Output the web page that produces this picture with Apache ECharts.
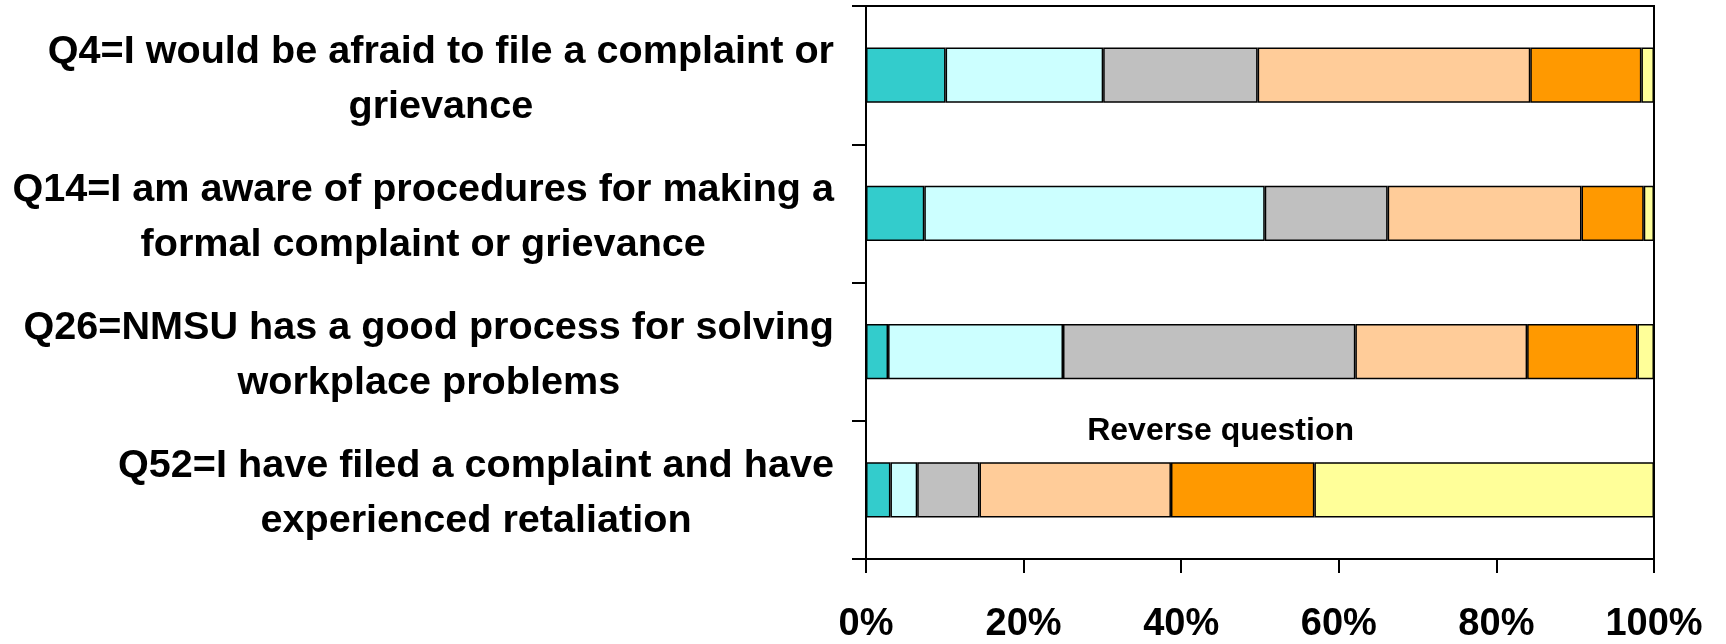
<!DOCTYPE html>
<html>
<head>
<meta charset="utf-8">
<script src="https://cdn.jsdelivr.net/npm/echarts@6/dist/echarts.min.js"></script>
<style>html,body{margin:0;padding:0;background:#fff;}#c{width:1726px;height:644px;}</style>
</head>
<body>
<div id="c"></div>
<script>
const categories = [
  ['Q4=I would be afraid to file a complaint or', 'grievance'],
  ['Q14=I am aware of procedures for making a', 'formal complaint or grievance'],
  ['Q26=NMSU has a good process for solving', 'workplace problems'],
  ['Q52=I have filed a complaint and have', 'experienced retaliation']
];
const seriesNames = ['S1', 'S2', 'S3', 'S4', 'S5', 'S6'];
const seriesColors = ['#33CCCC', '#CCFFFF', '#C0C0C0', '#FFCC99', '#FF9900', '#FFFF99'];
const s1 = [10.1, 7.4, 2.8, 3.1];
const s2 = [20.0, 43.2, 22.2, 3.4];
const s3 = [19.6, 15.6, 37.1, 7.9];
const s4 = [34.6, 24.6, 21.8, 24.3];
const s5 = [14.1, 7.9, 14.0, 18.2];
const s6 = [1.6, 1.3, 2.1, 43.1];
const xTicks = [0, 20, 40, 60, 80, 100];
const annotationText = 'Reverse question';

const seriesData = [s1, s2, s3, s4, s5, s6];
const catKeys = categories.map(c => c.join('\n'));
const FONT = '"Liberation Sans", Arial, sans-serif';

const chart = echarts.init(document.getElementById('c'), null, {renderer: 'canvas'});
const option = {
  animation: false,
  backgroundColor: '#fff',
  grid: {left: 866, right: 72, top: 6, bottom: 85, show: true, borderColor: '#000', borderWidth: 2, backgroundColor: 'transparent'},
  xAxis: {
    type: 'value', min: 0, max: 100, interval: 20,
    axisLine: {show: true, lineStyle: {color: '#000', width: 2}},
    axisTick: {show: true, length: 14, lineStyle: {color: '#000', width: 2}},
    splitLine: {show: false},
    axisLabel: {
      formatter: v => xTicks.includes(v) ? v + '%' : '',
      color: '#000', fontFamily: FONT, fontWeight: 'bold', fontSize: 38, margin: 47
    }
  },
  yAxis: {
    type: 'category', inverse: true, data: catKeys,
    axisLine: {show: true, lineStyle: {color: '#000', width: 2}},
    axisTick: {show: true, length: 14, lineStyle: {color: '#000', width: 2}},
    axisLabel: {
      margin: 32, align: 'right', padding: [8, 0, 0, 0],
      formatter: v => v.split('\n').map(l => '{c|' + l + '}').join('\n'),
      rich: {c: {align: 'center', color: '#000', fontFamily: FONT, fontWeight: 'bold', fontSize: 39.6, lineHeight: 55}}
    }
  },
  series: seriesData.map((d, i) => ({
    name: seriesNames[i], type: 'bar', stack: 'all', data: d,
    barCategoryGap: '60%',
    itemStyle: {color: seriesColors[i], borderColor: '#000', borderWidth: 1.5}
  }))
};
chart.setOption(option);
const p = chart.convertToPixel({xAxisIndex: 0, yAxisIndex: 0}, [45, catKeys[3]]);
chart.setOption({
  graphic: [{
    type: 'text', x: p[0], y: p[1] - 59,
    style: {text: annotationText, fill: '#000', font: 'bold 32px ' + FONT, textAlign: 'center', textVerticalAlign: 'middle'}
  }]
});
</script>
</body>
</html>
